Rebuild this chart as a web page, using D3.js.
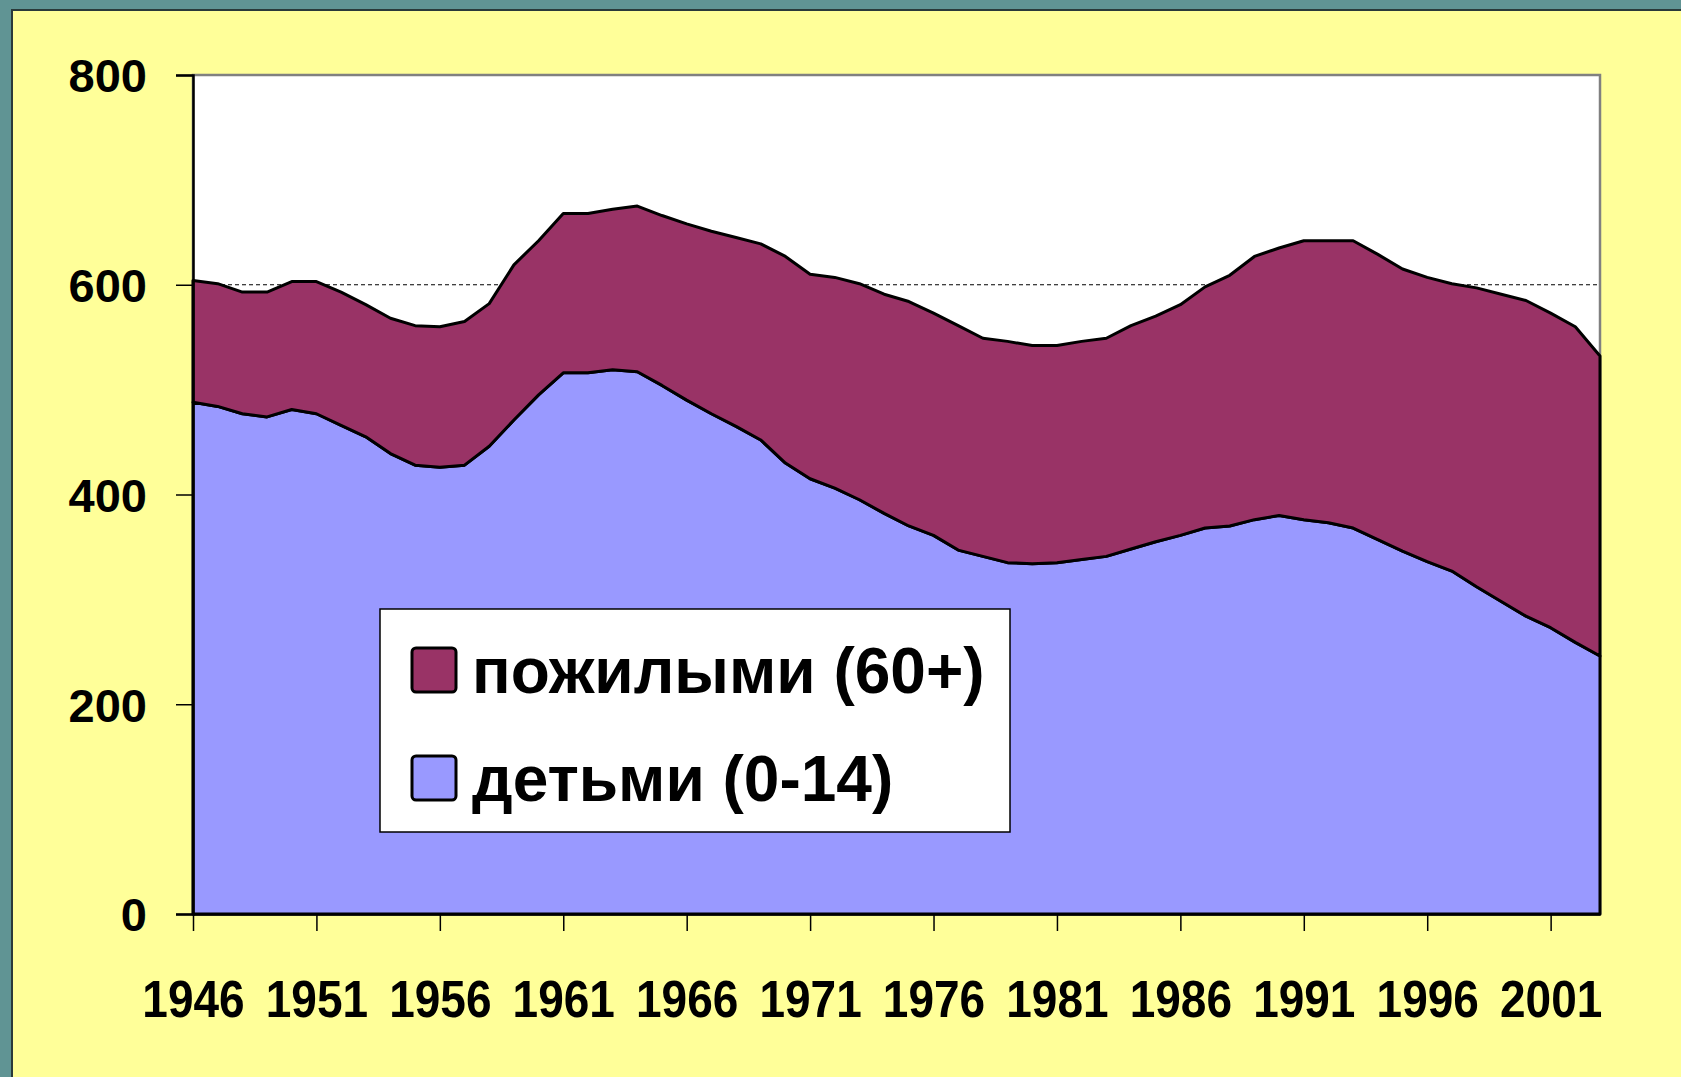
<!DOCTYPE html>
<html>
<head>
<meta charset="utf-8">
<script src="https://cdn.jsdelivr.net/npm/d3@7"></script>
<style>
  body { margin: 0; background: #609494; }
  svg { display: block; }
  text { font-family: Arial, "Liberation Sans", sans-serif; font-weight: bold; fill: #000; }
</style>
</head>
<body>
<div id="chart"></div>
<script>
'use strict';

// years on the category axis
let years = [
    1946, 1947, 1948, 1949, 1950, 1951, 1952, 1953, 1954, 1955,
    1956, 1957, 1958, 1959, 1960, 1961, 1962, 1963, 1964, 1965,
    1966, 1967, 1968, 1969, 1970, 1971, 1972, 1973, 1974, 1975,
    1976, 1977, 1978, 1979, 1980, 1981, 1982, 1983, 1984, 1985,
    1986, 1987, 1988, 1989, 1990, 1991, 1992, 1993, 1994, 1995,
    1996, 1997, 1998, 1999, 2000, 2001, 2002, 2003
];

// children 0-14 (bottom series)
let children = [
    488, 484, 477, 474, 481, 477, 466, 455, 439, 428,
    426, 428, 446, 471, 495, 516, 516, 519, 517, 504,
    490, 477, 465, 452, 430, 415, 406, 395, 382, 370,
    361, 347, 341, 335, 334, 335, 338, 341, 348, 355,
    361, 368, 370, 376, 380, 376, 373, 368, 357, 346,
    336, 327, 312, 298, 284, 273, 259, 246
];

// elderly 60+ (stacked on top)
let elderly = [
    116, 117, 116, 119, 122, 126, 127, 126, 129, 133,
    134, 137, 136, 148, 147, 152, 152, 153, 158, 162,
    168, 174, 180, 187, 197, 195, 201, 206, 209, 214,
    212, 214, 208, 211, 208, 207, 208, 208, 213, 215,
    220, 230, 239, 251, 255, 266, 269, 274, 272, 269,
    271, 274, 285, 293, 301, 300, 301, 286
];

let yTicks = [0, 200, 400, 600, 800];
let xTickYears = [1946, 1951, 1956, 1961, 1966, 1971, 1976, 1981, 1986, 1991, 1996, 2001];

let seriesNames = ['пожилыми (60+)', 'детьми (0-14)'];
let seriesColors = ['#993366', '#9999FF'];

let width = 1681;
let height = 1077;
let plot = {left: 193, top: 75, right: 1600, bottom: 914};

let svg = d3.select('#chart')
    .append('svg')
    .attr('width', width)
    .attr('height', height);

// slide background
svg.append('rect')
    .attr('x', 12)
    .attr('y', 10)
    .attr('width', width)
    .attr('height', height)
    .attr('fill', '#FFFF99')
    .attr('stroke', '#2a3a3a')
    .attr('stroke-width', 2);

let x = d3.scaleLinear()
    .domain([years[0], years[years.length - 1]])
    .range([plot.left, plot.right]);

let y = d3.scaleLinear()
    .domain([0, 800])
    .range([plot.bottom, plot.top]);

// plot area
svg.append('rect')
    .attr('x', plot.left)
    .attr('y', plot.top)
    .attr('width', plot.right - plot.left)
    .attr('height', plot.bottom - plot.top)
    .attr('fill', '#fff')
    .attr('stroke', '#808080')
    .attr('stroke-width', 2.5);

// gridlines (behind the areas)
svg.append('g')
    .selectAll('line')
    .data(yTicks.filter(d => d > 0 && d < 800))
    .join('line')
    .attr('x1', plot.left)
    .attr('x2', plot.right)
    .attr('y1', d => y(d))
    .attr('y2', d => y(d))
    .attr('stroke', '#000')
    .attr('stroke-width', 1)
    .attr('stroke-dasharray', '4,3');

// stacked areas
let table = years.map((yr, i) => ({year: yr, children: children[i], elderly: elderly[i]}));
let stack = d3.stack().keys(['children', 'elderly']);
let layers = stack(table);

let area = d3.area()
    .x(d => x(d.data.year))
    .y0(d => y(d[0]))
    .y1(d => y(d[1]));

svg.append('g')
    .selectAll('path')
    .data(layers)
    .join('path')
    .attr('d', area)
    .attr('fill', (d, i) => i === 0 ? seriesColors[1] : seriesColors[0])
    .attr('stroke', '#000')
    .attr('stroke-width', 3)
    .attr('stroke-linejoin', 'round');

// axes
let yAxis = d3.axisLeft(y)
    .tickValues(yTicks)
    .tickSize(17)
    .tickPadding(29);

let gY = svg.append('g')
    .attr('transform', 'translate(' + plot.left + ',0)')
    .call(yAxis);

gY.select('.domain')
    .attr('stroke-width', 2.5);
gY.selectAll('.tick line')
    .attr('stroke-width', 1.5);
gY.selectAll('.tick text')
    .style('font-size', '47px')
    .attr('dy', '0.36em');

let xAxis = d3.axisBottom(x)
    .tickValues(xTickYears)
    .tickFormat(d3.format('d'))
    .tickSize(17)
    .tickSizeOuter(0)
    .tickPadding(0);

let gX = svg.append('g')
    .attr('transform', 'translate(0,' + plot.bottom + ')')
    .call(xAxis);

gX.select('.domain')
    .attr('stroke-width', 2.5);
gX.selectAll('.tick line')
    .attr('stroke-width', 1.5);
gX.selectAll('.tick text')
    .style('font-size', '46px')
    .attr('y', 0)
    .attr('dy', 0)
    .attr('transform', 'translate(0,103) scale(1,1.12)');

// legend
let legend = svg.append('g')
    .attr('transform', 'translate(380,609)');

legend.append('rect')
    .attr('width', 630)
    .attr('height', 223)
    .attr('fill', '#fff')
    .attr('stroke', '#000')
    .attr('stroke-width', 1.5);

let items = legend.selectAll('g.item')
    .data(seriesNames)
    .join('g')
    .attr('class', 'item')
    .attr('transform', (d, i) => 'translate(0,' + (i * 108) + ')');

items.append('rect')
    .attr('x', 32)
    .attr('y', 39)
    .attr('width', 44)
    .attr('height', 44)
    .attr('rx', 4)
    .attr('fill', (d, i) => seriesColors[i])
    .attr('stroke', '#000')
    .attr('stroke-width', 3);

items.append('text')
    .attr('x', 92)
    .attr('y', 84)
    .style('font-size', '64px')
    .text(d => d);
</script>
</body>
</html>
